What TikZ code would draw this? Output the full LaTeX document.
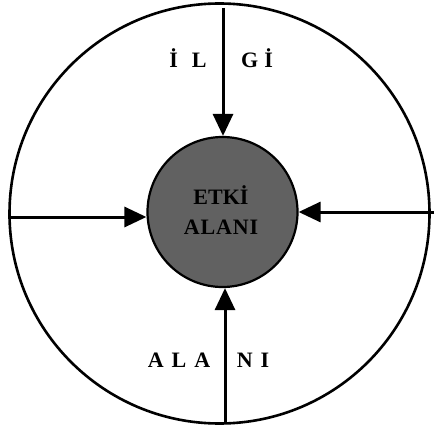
\documentclass[tikz,border=0pt]{standalone}
\usepackage{fontspec}
\setmainfont{Liberation Serif}
\usetikzlibrary{arrows.meta}
\begin{document}
\begin{tikzpicture}[x=1pt,y=-1pt,
  outer/.style={draw=black,line width=2.6pt,circle,minimum size=420pt,inner sep=0pt},
  inner/.style={draw=black,line width=2.2pt,circle,fill=black!62,minimum size=150pt,inner sep=0pt},
  arr/.style={line width=3pt,-{Triangle[length=22pt,width=20pt]}},
  lbl/.style={font=\fontsize{22}{26}\selectfont\bfseries},
  ctr/.style={font=\fontsize{22}{30}\selectfont\bfseries,align=center,text=black}
]
\useasboundingbox (0,0) rectangle (435,430);
\node[outer] (big) at (219.5,213.5) {};
\node[inner] (mid) at (222.5,212) {};
\node[ctr] (txt) at (221,210) {ETKİ\\\addfontfeature{LetterSpace=4}ALANI};
\coordinate (t) at (223,8);
\coordinate (b) at (225,423);
\coordinate (l) at (8,217);
\coordinate (r) at (434,212);
\draw[arr] (t) -- (t |- mid.north);
\draw[arr] (b) -- (b |- mid.south);
\draw[arr] (l) -- (l -| mid.west);
\draw[arr] (r) -- (r -| mid.east);
\node[lbl] (il) at (188,58) {İ\hspace{14pt}L};
\node[lbl] (gi) at (257,58) {G\hspace{6pt}İ};
\node[lbl] (ala) at (179,360) {A\hspace{8pt}L\hspace{8pt}A};
\node[lbl] (ni) at (253,360) {N\hspace{8pt}I};
\end{tikzpicture}
\end{document}
